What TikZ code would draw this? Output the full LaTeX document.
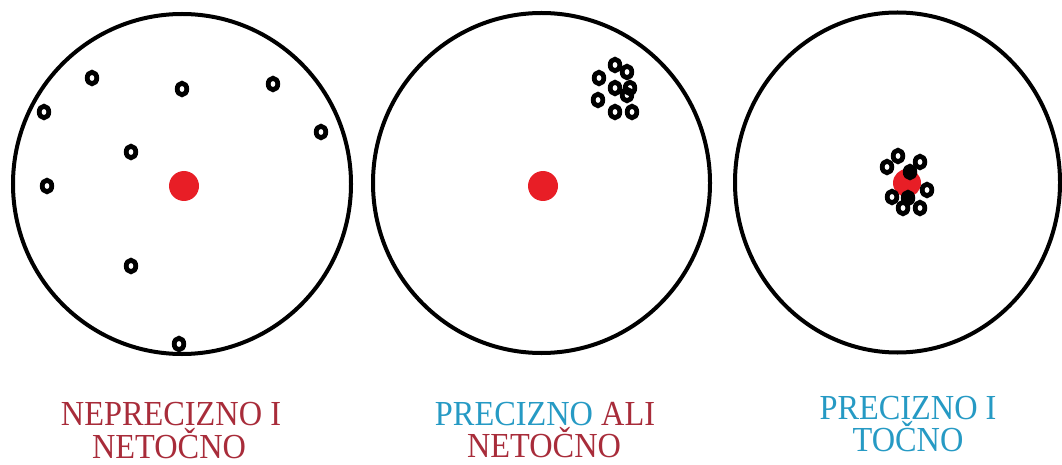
\documentclass[tikz,border=0pt]{standalone}
\usepackage{fontspec}
\setmainfont{Liberation Serif}[FakeStretch=0.92]
\usetikzlibrary{positioning}

\definecolor{bullred}{RGB}{232,30,38}
\definecolor{txtred}{RGB}{168,44,58}
\definecolor{txtblue}{RGB}{38,154,196}

\tikzset{
  meta/.style={draw=black, line width=0.1cm},
  pogodak/.style={draw=black, line width=0.12cm},
  oznaka/.style={anchor=base, inner sep=0pt, font=\fontsize{25}{29}\selectfont},
}

\begin{document}
\begin{tikzpicture}[x=0.025cm, y=-0.025cm]
    \useasboundingbox (0,0) rectangle (1062,465);

    % mete
    \draw[meta] (182,184) ellipse (169 and 170);
    \draw[meta] (541.5,183) ellipse (168.5 and 170);
    \draw[meta] (897.5,182.5) ellipse (162.5 and 170);

    % sredista
    \fill[bullred] (184,186) circle (15);
    \fill[bullred] (543,186) circle (15);
    \fill[bullred] (907,183) circle (14);

    % pogoci
    \foreach \x/\y in {92/78, 182/89, 273/84, 44/112, 321/132, 131/152, 47/186, 131/266, 179/344}
        \draw[pogodak] (\x,\y) ellipse (4.8 and 5.8);
    \foreach \x/\y in {599/78, 615/65, 627/72, 615/88, 630/88, 627/95, 598/100, 615/112, 632/112}
        \draw[pogodak] (\x,\y) ellipse (4.8 and 5.8);
    \foreach \x/\y in {887/167, 898/156, 920/162, 927/190, 892/197, 903/208, 920/208}
        \draw[pogodak] (\x,\y) ellipse (4.8 and 5.8);
    \foreach \x/\y in {910/172, 908/198}
        \draw[pogodak, fill=black] (\x,\y) ellipse (4.8 and 5.8);

    % natpisi
    \node[oznaka, text=txtred] (n1a) at (171,425) {NEPRECIZNO I};
    \node[oznaka, text=txtred] (n1b) at (169,458) {NETOČNO};
    \node[oznaka] (n2a) at (545,425) {\textcolor{txtblue}{PRECIZNO} \textcolor{txtred}{ALI}};
    \node[oznaka, text=txtred] (n2b) at (544,457) {NETOČNO};
    \node[oznaka, text=txtblue] (n3a) at (908,419) {PRECIZNO I};
    \node[oznaka, text=txtblue] (n3b) at (908,451) {TOČNO};
\end{tikzpicture}
\end{document}
